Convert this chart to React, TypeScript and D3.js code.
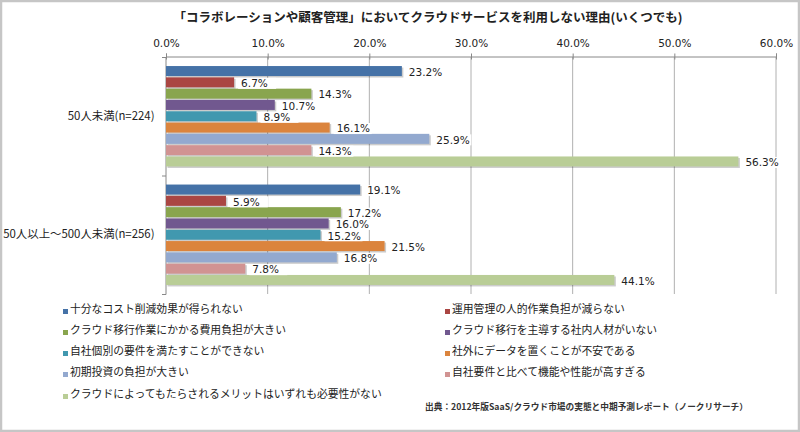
import { useEffect, useRef } from "react";
import * as d3 from "d3";

const title = "「コラボレーションや顧客管理」においてクラウドサービスを利用しない理由(いくつでも)";
const source = "出典：2012年版SaaS/クラウド市場の実態と中期予測レポート（ノークリサーチ）";

const groups = ["50人未満(n=224)", "50人以上～500人未満(n=256)"];

const seriesNames = [
  "十分なコスト削減効果が得られない",
  "運用管理の人的作業負担が減らない",
  "クラウド移行作業にかかる費用負担が大きい",
  "クラウド移行を主導する社内人材がいない",
  "自社個別の要件を満たすことができない",
  "社外にデータを置くことが不安である",
  "初期投資の負担が大きい",
  "自社要件と比べて機能や性能が高すぎる",
  "クラウドによってもたらされるメリットはいずれも必要性がない",
];

const seriesColors = [
  "#4572A7", "#AA4643", "#89A54E", "#71588F", "#4198AF",
  "#DB843D", "#93A9CF", "#D19392", "#B9CD96",
];

// values per group, in series order (%)
const under50 = [23.2, 6.7, 14.3, 10.7, 8.9, 16.1, 25.9, 14.3, 56.3];
const from50to500 = [19.1, 5.9, 17.2, 16.0, 15.2, 21.5, 16.8, 7.8, 44.1];

const xTicks = [0, 10, 20, 30, 40, 50, 60];

const W = 800;
const H = 432;
const numFont = "'DejaVu Sans', Verdana, sans-serif";
const jpFont = "'Noto Sans CJK JP', sans-serif";

export default function App() {
  const svgRef = useRef<SVGSVGElement>(null);

  useEffect(() => {
    if (!svgRef.current) return;
    const svg = d3.select(svgRef.current);
    svg.selectAll("*").remove();

    const plot = { left: 166, right: 776, top: 57, bottom: 294 };
    const values = [under50, from50to500];

    const x = d3.scaleLinear().domain([0, 60]).range([plot.left, plot.right]);
    const y0 = d3.scaleBand<string>().domain(groups).range([plot.top, plot.bottom]);
    const y1 = d3.scaleBand<string>()
      .domain(seriesNames)
      .range([0, y0.bandwidth()])
      .paddingInner(0.115)
      .paddingOuter(0.8);

    // frame
    svg.append("rect")
      .attr("x", 1).attr("y", 1)
      .attr("width", W - 2).attr("height", H - 2)
      .attr("fill", "#fff")
      .attr("stroke", "#c6c6c6")
      .attr("stroke-width", 2.5);

    // title
    svg.append("text")
      .attr("x", 428).attr("y", 22)
      .attr("text-anchor", "middle")
      .attr("font-family", jpFont)
      .attr("font-weight", "bold")
      .attr("font-size", 12.5)
      .attr("fill", "#222")
      .text(title);

    // gridlines
    svg.append("g")
      .selectAll("line")
      .data(xTicks.slice(1))
      .join("line")
      .attr("x1", d => x(d)).attr("x2", d => x(d))
      .attr("y1", plot.top).attr("y2", plot.bottom)
      .attr("stroke", "#b0b0b0")
      .attr("stroke-width", 1);

    // top value axis
    const xAxis = svg.append("g")
      .attr("transform", `translate(0,${plot.top - 0.5})`)
      .call(d3.axisTop(x).tickValues(xTicks).tickSize(3).tickFormat(d => `${(+d).toFixed(1)}%`));
    xAxis.select(".domain").attr("stroke", "#888");
    xAxis.selectAll(".tick line").attr("stroke", "#888").attr("y2", -3).attr("y1", 3);
    xAxis.selectAll(".tick text")
      .attr("font-family", numFont)
      .attr("font-size", 10.5)
      .attr("fill", "#222")
      .attr("y", -10);

    // left category axis
    const yAxis = svg.append("g")
      .attr("transform", `translate(${plot.left - 0.5},0)`)
      .call(d3.axisLeft(y0).tickSize(0).tickPadding(11));
    yAxis.select(".domain").attr("stroke", "#888");
    yAxis.selectAll(".tick text")
      .attr("font-family", jpFont)
      .attr("font-size", 11.4)
      .attr("fill", "#222");
    const bounds = [plot.top, y0(groups[1]) as number, plot.bottom];
    svg.append("g")
      .selectAll("line")
      .data(bounds)
      .join("line")
      .attr("x1", plot.left - 4).attr("x2", plot.left)
      .attr("y1", d => d + 0.5).attr("y2", d => d + 0.5)
      .attr("stroke", "#888");

    // bars
    const groupG = svg.append("g")
      .selectAll("g")
      .data(groups)
      .join("g")
      .attr("transform", d => `translate(0,${y0(d)})`);

    groupG.each(function (g, gi) {
      const sel = d3.select(this);
      const rows = seriesNames.map((s, i) => ({ s, i, v: values[gi][i] }));

      sel.selectAll("rect.shadow")
        .data(rows)
        .join("rect")
        .attr("class", "shadow")
        .attr("x", plot.left + 1.5)
        .attr("y", d => (y1(d.s) as number) + 1.5)
        .attr("width", d => x(d.v) - plot.left)
        .attr("height", y1.bandwidth())
        .attr("fill", "#000")
        .attr("opacity", 0.2);

      sel.selectAll("rect.bar")
        .data(rows)
        .join("rect")
        .attr("class", "bar")
        .attr("x", plot.left)
        .attr("y", d => y1(d.s) as number)
        .attr("width", d => x(d.v) - plot.left)
        .attr("height", y1.bandwidth())
        .attr("fill", d => seriesColors[d.i]);

      const labels = sel.selectAll("g.lab")
        .data(rows)
        .join("g")
        .attr("class", "lab")
        .attr("transform", d => `translate(${x(d.v) + 4},${(y1(d.s) as number) + y1.bandwidth() / 2 + 1})`);
      labels.append("rect")
        .attr("x", 0).attr("y", -5.5)
        .attr("width", 38).attr("height", 11)
        .attr("fill", "#fff");
      labels.append("text")
        .attr("x", 3)
        .attr("dy", "0.36em")
        .attr("font-family", numFont)
        .attr("font-size", 10.5)
        .attr("fill", "#222")
        .text(d => `${d.v.toFixed(1)}%`);
    });

    // legend
    const legendRows = [310, 331, 352, 373, 395];
    const legend = svg.append("g")
      .selectAll("g")
      .data(seriesNames)
      .join("g")
      .attr("transform", (_, i) => `translate(${i % 2 === 0 ? 63 : 445},${legendRows[Math.floor(i / 2)]})`);
    legend.append("rect")
      .attr("x", 0).attr("y", -1)
      .attr("width", 5).attr("height", 5)
      .attr("fill", (_, i) => seriesColors[i]);
    legend.append("text")
      .attr("x", 7)
      .attr("dy", "0.3em")
      .attr("font-family", jpFont)
      .attr("font-size", 10.8)
      .attr("fill", "#222")
      .text(d => d);

    // source
    svg.append("text")
      .attr("x", 425).attr("y", 410)
      .attr("font-family", jpFont)
      .attr("font-weight", "bold")
      .attr("font-size", 8.7)
      .attr("fill", "#333")
      .text(source);
  }, []);

  return (
    <div style={{ position: "absolute", left: 0, top: 0 }}>
      <svg ref={svgRef} width={W} height={H}></svg>
    </div>
  );
}
